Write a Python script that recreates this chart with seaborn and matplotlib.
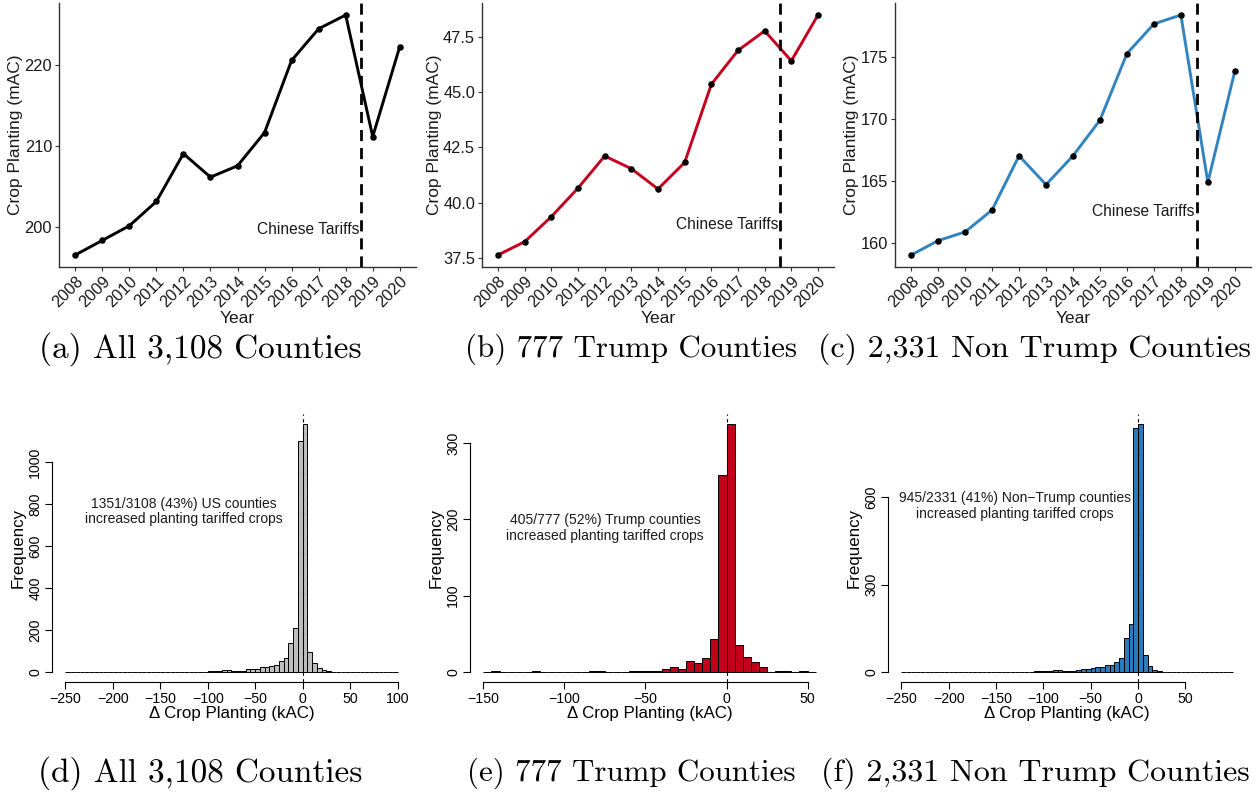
import numpy as np
import pandas as pd
import matplotlib
matplotlib.use("Agg")
import matplotlib.pyplot as plt
import seaborn as sns

# ---------------- data ----------------
years = [2008, 2009, 2010, 2011, 2012, 2013, 2014, 2015, 2016, 2017, 2018, 2019, 2020]
all_vals = [196.6, 198.4, 200.2, 203.2, 209.1, 206.2, 207.6, 211.7, 220.6, 224.5, 226.2, 211.2, 222.3]
trump_vals = [37.64, 38.24, 39.37, 40.66, 42.11, 41.54, 40.62, 41.82, 45.35, 46.88, 47.76, 46.41, 48.48]
nontrump_vals = [159.0, 160.16, 160.86, 162.63, 167.0, 164.67, 167.0, 169.87, 175.24, 177.63, 178.35, 164.86, 173.82]

line_yticks_all = [200, 210, 220]
line_yticks_trump = [37.5, 40.0, 42.5, 45.0, 47.5]
line_yticks_non = [160, 165, 170, 175]
tariff_x = 2018.58
tariff_label_y = [199.8, 39.03, 162.5]

# histogram bins (width 5 kAC) and counts
edges_all = list(range(-250, 105, 5))
counts_all = [0, 0, 0, 0, 1, 0, 0, 0, 1, 0,
              0, 0, 1, 0, 0, 0, 0, 0, 1, 1,
              1, 1, 0, 0, 1, 1, 1, 1, 2, 2,
              3, 6, 6, 8, 8, 7, 6, 6, 14, 14,
              16, 22, 22, 31, 32, 52, 65, 136, 211, 1098,
              1181, 95, 41, 19, 11, 3, 2, 2, 1, 1,
              0, 0, 0, 0, 0, 0, 0, 0, 0, 0]
edges_trump = list(range(-150, 60, 5))
counts_trump = [0, 1, 0, 0, 0, 0, 1, 0, 0, 0,
                0, 0, 0, 2, 2, 0, 0, 0, 1, 2,
                2, 2, 4, 6, 4, 14, 12, 18, 43, 258,
                325, 36, 20, 13, 6, 0, 2, 1, 0, 1,
                0]
edges_non = list(range(-250, 105, 5))
counts_non = [0, 0, 0, 0, 1, 0, 0, 0, 1, 0,
              0, 0, 1, 0, 0, 0, 0, 0, 1, 1,
              1, 0, 0, 0, 1, 1, 1, 1, 2, 2,
              2, 5, 6, 6, 4, 5, 5, 6, 11, 11,
              14, 18, 16, 25, 26, 36, 50, 116, 165, 837,
              852, 58, 21, 7, 3, 1, 1, 1, 1, 0,
              0, 0, 0, 0, 0, 0, 0, 0, 0, 0]

hist_xticks_all = [-250, -200, -150, -100, -50, 0, 50, 100]
hist_xticks_trump = [-150, -100, -50, 0, 50]
hist_xticks_non = [-250, -200, -150, -100, -50, 0, 50]
hist_yticks_all = [0, 200, 400, 600, 800, 1000]
hist_yticks_trump = [0, 100, 200, 300]
hist_yticks_non = [0, 300, 600]

hist_notes = ["1351/3108 (43%) US counties\nincreased planting tariffed crops",
              "405/777 (52%) Trump counties\nincreased planting tariffed crops",
              "945/2331 (41%) Non\u2212Trump counties\nincreased planting tariffed crops"]
hist_note_pos = [(-125, 765), (-75, 189), (-130, 571)]

captions_top = ["(a) All 3,108 Counties", "(b) 777 Trump Counties", "(c) 2,331 Non Trump Counties"]
captions_bot = ["(d) All 3,108 Counties", "(e) 777 Trump Counties", "(f) 2,331 Non Trump Counties"]

line_colors = ["black", "#C4001E", "#3184C0"]
bar_colors = ["#BEBEBE", "#C0001A", "#2B7BBA"]

# ---------------- figure ----------------
sns.set_theme(style="white")
plt.rcParams["font.family"] = ["Liberation Sans", "DejaVu Sans"]

W, H = 1258, 792
fig = plt.figure(figsize=(W / 100, H / 100), dpi=100)
fig.patch.set_facecolor("white")


def box(l, t, r, b):
    return [l / W, 1 - b / H, (r - l) / W, (b - t) / H]


top_boxes = [(59, 3, 416, 267), (482, 3, 834, 267), (895, 3, 1251, 267)]
bot_boxes = [(52, 414, 411, 682), (470, 414, 829, 682), (888, 414, 1246, 682)]

line_series = [all_vals, trump_vals, nontrump_vals]
line_yticks = [line_yticks_all, line_yticks_trump, line_yticks_non]
line_fmt = ["{:.0f}", "{:.1f}", "{:.0f}"]

for i in range(3):
    ax = fig.add_axes(box(*top_boxes[i]))
    df = pd.DataFrame({"Year": years, "val": line_series[i]})
    sns.lineplot(data=df, x="Year", y="val", ax=ax, color=line_colors[i], linewidth=2.1)
    sns.scatterplot(data=df, x="Year", y="val", ax=ax, color="black", s=22, edgecolor="black",
                    linewidth=0, zorder=5)
    ymin, ymax = min(line_series[i]), max(line_series[i])
    pad = 0.05 * (ymax - ymin)
    ax.set_ylim(ymin - pad, ymax + pad)
    ax.set_xlim(years[0] - 0.05 * (years[-1] - years[0]), years[-1] + 0.05 * (years[-1] - years[0]))
    ax.axvline(tariff_x, color="black", linestyle=(0, (4, 2.5)), linewidth=2.0)
    ax.text(tariff_x - 0.08, tariff_label_y[i], "Chinese Tariffs", ha="right", va="center",
            fontsize=11.2, color="#1a1a1a")
    ax.set_xticks(years)
    ax.set_xticklabels([str(y) for y in years], rotation=45, ha="right", va="top",
                       rotation_mode="anchor", fontsize=11.8, color="#1a1a1a")
    ax.set_yticks(line_yticks[i])
    ax.set_yticklabels([line_fmt[i].format(v) for v in line_yticks[i]], fontsize=11.8, color="#1a1a1a")
    ax.tick_params(axis="both", length=3, width=0.8, color="#333333", pad=2, direction="out",
                   bottom=True, left=True)
    ax.set_xlabel("Year", fontsize=12.5, color="#1a1a1a", labelpad=0)
    ax.set_ylabel("Crop Planting (mAC)", fontsize=12.5, color="#1a1a1a", labelpad=1)
    for s in ["top", "right"]:
        ax.spines[s].set_visible(False)
    for s in ["left", "bottom"]:
        ax.spines[s].set_color("#333333")
        ax.spines[s].set_linewidth(1.0)
    ax.set_facecolor("white")

hist_edges = [edges_all, edges_trump, edges_non]
hist_counts = [counts_all, counts_trump, counts_non]
hist_xt = [hist_xticks_all, hist_xticks_trump, hist_xticks_non]
hist_yt = [hist_yticks_all, hist_yticks_trump, hist_yticks_non]

for i in range(3):
    ax = fig.add_axes(box(*bot_boxes[i]))
    e = [float(v) for v in hist_edges[i]]
    centers = [(a + b) / 2 for a, b in zip(e[:-1], e[1:])]
    df = pd.DataFrame({"delta": centers, "n": hist_counts[i]})
    sns.histplot(data=df, x="delta", weights="n", bins=e, ax=ax, color=bar_colors[i],
                 edgecolor="black", linewidth=0.7, alpha=1.0)
    lo, hi = e[0], e[-1]
    M = max(hist_counts[i])
    ax.set_xlim(lo - 0.04 * (hi - lo), hi + 0.04 * (hi - lo))
    ax.set_ylim(-0.04 * M, 1.04 * M)
    ax.axvline(0, color="black", linestyle=(0, (3, 3)), linewidth=0.8, zorder=10)
    ax.set_xticks(hist_xt[i])
    ax.set_xticklabels([f"{v}".replace("-", "\u2212") for v in hist_xt[i]], fontsize=10.2,
                       color="black")
    ax.set_yticks(hist_yt[i])
    ax.set_yticklabels([str(v) for v in hist_yt[i]], fontsize=10.2, rotation=90, va="center",
                       color="black")
    ax.tick_params(axis="both", length=5, width=0.8, color="black", pad=2, direction="out",
                   bottom=True, left=True)
    ax.spines["left"].set_bounds(hist_yt[i][0], hist_yt[i][-1])
    ax.spines["bottom"].set_bounds(hist_xt[i][0], hist_xt[i][-1])
    for s in ["top", "right"]:
        ax.spines[s].set_visible(False)
    for s in ["left", "bottom"]:
        ax.spines[s].set_color("black")
        ax.spines[s].set_linewidth(0.8)
    ax.set_xlabel("\u0394 Crop Planting (kAC)", fontsize=12.2, color="black", labelpad=0)
    ax.set_ylabel("Frequency", fontsize=12.2, color="black", labelpad=2)
    ax.text(hist_note_pos[i][0], hist_note_pos[i][1], hist_notes[i], ha="center", va="center",
            fontsize=10, color="#1a1a1a", linespacing=1.15)
    ax.set_facecolor("white")

cap_x = [200, 631, 1035]
cap_size = [24.0, 22.3, 23.0]
for i in range(3):
    fig.text(cap_x[i] / W, 1 - 349 / H, captions_top[i], ha="center", va="center",
             fontsize=cap_size[i], family="cmr10", color="black")
    fig.text(cap_x[i] / W, 1 - 773 / H, captions_bot[i], ha="center", va="center",
             fontsize=cap_size[i], family="cmr10", color="black")

fig.savefig("out.png", dpi=100, facecolor="white")
